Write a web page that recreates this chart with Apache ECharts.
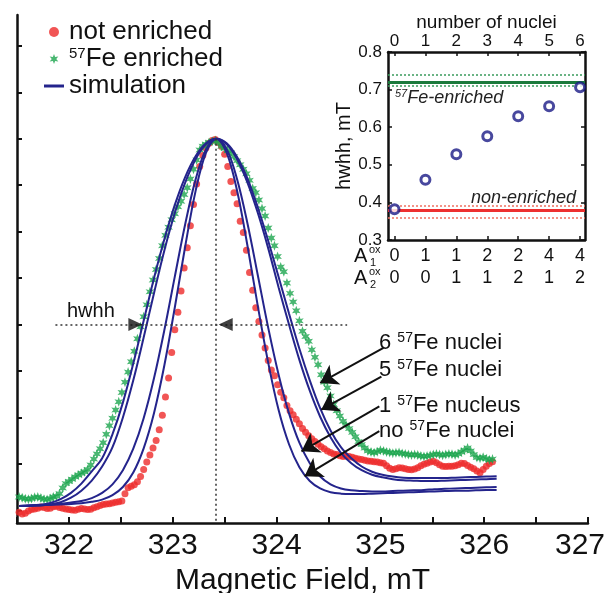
<!DOCTYPE html>
<html>
<head>
<meta charset="utf-8">
<script src="https://cdn.jsdelivr.net/npm/echarts@6/dist/echarts.min.js"></script>
<style>
html, body { margin: 0; padding: 0; background: #fff; }
#chart { width: 608px; height: 593px; }
</style>
</head>
<body>
<div id="chart"></div>
<script>
// field grid of the measured spectra (mT)
const fieldExp = [
  321.52, 321.55, 321.58, 321.61, 321.64, 321.67, 321.70, 321.73, 321.76, 321.79,
  321.82, 321.85, 321.88, 321.91, 321.94, 321.97, 322.00, 322.03, 322.06, 322.09,
  322.12, 322.15, 322.18, 322.21, 322.24, 322.27, 322.30, 322.33, 322.36, 322.39,
  322.42, 322.45, 322.48, 322.51, 322.54, 322.57, 322.60, 322.63, 322.66, 322.69,
  322.72, 322.75, 322.78, 322.81, 322.84, 322.87, 322.90, 322.93, 322.96, 322.99,
  323.02, 323.05, 323.08, 323.11, 323.14, 323.17, 323.20, 323.23, 323.26, 323.29,
  323.32, 323.35, 323.38, 323.41, 323.44, 323.47, 323.50, 323.53, 323.56, 323.59,
  323.62, 323.65, 323.68, 323.71, 323.74, 323.77, 323.80, 323.83, 323.86, 323.89,
  323.92, 323.95, 323.98, 324.01, 324.04, 324.07, 324.10, 324.13, 324.16, 324.19,
  324.22, 324.25, 324.28, 324.31, 324.34, 324.37, 324.40, 324.43, 324.46, 324.49,
  324.52, 324.55, 324.58, 324.61, 324.64, 324.67, 324.70, 324.73, 324.76, 324.79,
  324.82, 324.85, 324.88, 324.91, 324.94, 324.97, 325.00, 325.03, 325.06, 325.09,
  325.12, 325.15, 325.18, 325.21, 325.24, 325.27, 325.30, 325.33, 325.36, 325.39,
  325.42, 325.45, 325.48, 325.51, 325.54, 325.57, 325.60, 325.63, 325.66, 325.69,
  325.72, 325.75, 325.78, 325.81, 325.84, 325.87, 325.90, 325.93, 325.96, 325.99,
  326.02, 326.05, 326.08
];
const notEnriched = [
  -0.005, -0.010, -0.008, -0.002, 0.002, 0.004, 0.006, 0.009, 0.008, 0.005,
  0.006, 0.010, 0.011, 0.008, 0.006, 0.004, 0.002, 0.001, 0.000, 0.003,
  0.005, 0.004, 0.002, 0.003, 0.007, 0.010, 0.013, 0.016, 0.017, 0.018,
  0.020, 0.022, 0.023, 0.025, 0.045, 0.061, 0.065, 0.069, 0.077, 0.091,
  0.110, 0.130, 0.149, 0.168, 0.188, 0.217, 0.256, 0.305, 0.356, 0.425,
  0.486, 0.533, 0.590, 0.652, 0.707, 0.766, 0.823, 0.878, 0.925, 0.955,
  0.975, 0.988, 0.995, 0.998, 0.990, 0.979, 0.958, 0.925, 0.885, 0.855,
  0.825, 0.778, 0.748, 0.700, 0.640, 0.592, 0.545, 0.508, 0.472, 0.437,
  0.403, 0.378, 0.362, 0.338, 0.318, 0.303, 0.282, 0.268, 0.257, 0.245,
  0.233, 0.220, 0.210, 0.201, 0.193, 0.185, 0.178, 0.171, 0.166, 0.160,
  0.156, 0.152, 0.150, 0.147, 0.145, 0.146, 0.145, 0.143, 0.140, 0.138,
  0.137, 0.135, 0.133, 0.132, 0.131, 0.130, 0.128, 0.127, 0.120, 0.113,
  0.110, 0.112, 0.115, 0.114, 0.112, 0.110, 0.109, 0.111, 0.115, 0.120,
  0.124, 0.127, 0.130, 0.132, 0.128, 0.123, 0.119, 0.118, 0.119, 0.119,
  0.120, 0.123, 0.127, 0.126, 0.121, 0.116, 0.112, 0.106, 0.101, 0.110,
  0.119, 0.126, 0.131
];
const enriched = [
  0.036, 0.034, 0.031, 0.030, 0.032, 0.035, 0.036, 0.033, 0.030, 0.029,
  0.032, 0.036, 0.038, 0.045, 0.060, 0.072, 0.078, 0.084, 0.090, 0.095,
  0.100, 0.104, 0.110, 0.122, 0.138, 0.152, 0.166, 0.182, 0.205, 0.228,
  0.248, 0.270, 0.292, 0.317, 0.345, 0.372, 0.400, 0.428, 0.462, 0.494,
  0.521, 0.553, 0.588, 0.620, 0.648, 0.678, 0.712, 0.740, 0.762, 0.782,
  0.798, 0.817, 0.832, 0.850, 0.868, 0.892, 0.918, 0.943, 0.970, 0.980,
  0.985, 0.990, 0.993, 0.995, 0.990, 0.980, 0.974, 0.968, 0.962, 0.952,
  0.941, 0.930, 0.918, 0.906, 0.888, 0.866, 0.855, 0.835, 0.812, 0.792,
  0.760, 0.733, 0.712, 0.683, 0.655, 0.642, 0.612, 0.584, 0.561, 0.537,
  0.510, 0.482, 0.468, 0.455, 0.432, 0.412, 0.392, 0.365, 0.345, 0.330,
  0.308, 0.285, 0.268, 0.254, 0.240, 0.230, 0.220, 0.210, 0.198, 0.185,
  0.177, 0.168, 0.160, 0.157, 0.155, 0.158, 0.162, 0.160, 0.157, 0.156,
  0.154, 0.155, 0.156, 0.153, 0.152, 0.150, 0.149, 0.150, 0.149, 0.146,
  0.145, 0.146, 0.148, 0.150, 0.152, 0.150, 0.148, 0.150, 0.152, 0.151,
  0.149, 0.152, 0.157, 0.162, 0.168, 0.160, 0.150, 0.142, 0.140, 0.143,
  0.139, 0.136, 0.138
];

// field grid of the simulations (mT)
const fieldSim = [
  321.52, 321.62, 321.72, 321.82, 321.92, 322.02, 322.12, 322.22, 322.32, 322.42,
  322.52, 322.62, 322.72, 322.82, 322.92, 323.02, 323.12, 323.22, 323.32, 323.42,
  323.52, 323.62, 323.72, 323.82, 323.92, 324.02, 324.12, 324.22, 324.32, 324.42,
  324.52, 324.62, 324.72, 324.82, 324.92, 325.02, 325.12, 325.22, 325.32, 325.42,
  325.52, 325.62, 325.72, 325.82, 325.92, 326.02, 326.12
];
const simNone = [
  0.012, 0.013, 0.014, 0.015, 0.016, 0.017, 0.019, 0.023, 0.029, 0.041,
  0.063, 0.102, 0.167, 0.262, 0.391, 0.546, 0.710, 0.859, 0.962, 1.000,
  0.962, 0.860, 0.712, 0.549, 0.397, 0.270, 0.178, 0.116, 0.079, 0.059,
  0.049, 0.045, 0.044, 0.044, 0.045, 0.046, 0.047, 0.048, 0.049, 0.050,
  0.051, 0.052, 0.053, 0.053, 0.054, 0.055, 0.055
];
const simOne = [
  0.012, 0.013, 0.014, 0.015, 0.017, 0.021, 0.025, 0.033, 0.047, 0.070,
  0.108, 0.166, 0.248, 0.356, 0.486, 0.629, 0.770, 0.890, 0.971, 1.000,
  0.972, 0.891, 0.772, 0.632, 0.491, 0.365, 0.261, 0.182, 0.127, 0.091,
  0.070, 0.059, 0.054, 0.052, 0.051, 0.051, 0.052, 0.053, 0.054, 0.055,
  0.057, 0.058, 0.059, 0.060, 0.061, 0.062, 0.063
];
const simFive = [
  0.012, 0.012, 0.013, 0.016, 0.022, 0.034, 0.053, 0.080, 0.118, 0.170,
  0.250, 0.350, 0.465, 0.585, 0.700, 0.800, 0.882, 0.945, 0.985, 1.000,
  0.985, 0.945, 0.882, 0.800, 0.705, 0.600, 0.500, 0.405, 0.322, 0.252,
  0.197, 0.155, 0.127, 0.108, 0.096, 0.089, 0.084, 0.081, 0.080, 0.079,
  0.079, 0.080, 0.081, 0.082, 0.083, 0.084, 0.085
];
const simSix = [
  0.012, 0.013, 0.015, 0.020, 0.030, 0.047, 0.072, 0.105, 0.140, 0.205,
  0.290, 0.395, 0.510, 0.625, 0.730, 0.822, 0.897, 0.953, 0.988, 1.000,
  0.988, 0.951, 0.893, 0.815, 0.725, 0.628, 0.530, 0.435, 0.350, 0.275,
  0.215, 0.170, 0.140, 0.118, 0.104, 0.096, 0.091, 0.088, 0.087, 0.087,
  0.087, 0.087, 0.088, 0.089, 0.090, 0.091, 0.092
];

// main plot guides: centre field, half height, hwhh arrow positions
const peakField = 323.41;
const halfLevel = 0.5;
const halfLineFrom = 321.87;
const halfLineTo = 324.68;
const hwhhArrows = [[322.64, 0.5, -90], [323.51, 0.5, 90]];
const yTickValues = [0, 0.125, 0.25, 0.375, 0.5, 0.625, 0.75, 0.875, 1, 1.125, 1.25];

// annotation arrows [from field, from int, to field, to int]
const labelArrows = [
  [325.03, 0.437, 324.42, 0.343],
  [325.01, 0.360, 324.43, 0.271],
  [324.99, 0.280, 324.24, 0.159],
  [324.99, 0.213, 324.27, 0.092]
];

// inset
const nucleiCount = [0, 1, 2, 3, 4, 5, 6];
const hwhhSim = [0.382, 0.460, 0.528, 0.576, 0.629, 0.656, 0.706];
const a1Values = ['0', '1', '1', '2', '2', '4', '4'];
const a2Values = ['0', '0', '1', '1', '2', '1', '2'];
const enrichedBand = [0.708, 0.725, 0.741];
const nonEnrichedBand = [0.358, 0.376, 0.392];

const RED = '#ee2a2a';
const GREEN = '#1ca54e';
const BLUE = '#24248c';
const INK = '#111';
const FONT = '"Liberation Sans", Arial, sans-serif';
const starPath = 'path://M0,-10L2.25,-3.9L8.66,-5L4.5,0L8.66,5L2.25,3.9L0,10L-2.25,3.9L-8.66,5L-4.5,0L-8.66,-5L-2.25,-3.9Z';
const dashPath = 'path://M0,0H20V3H0Z';

const myChart = echarts.init(document.getElementById('chart'));

function simSeries(vals) {
    return {
        name: 'simulation',
        type: 'line',
        xAxisIndex: 0,
        yAxisIndex: 0,
        data: fieldSim.map((b, i) => [b, vals[i]]),
        symbol: 'none',
        smooth: 0.35,
        lineStyle: {color: BLUE, width: 2},
        itemStyle: {color: BLUE},
        z: 4
    };
}

const dotted = {color: '#333', width: 1.5, type: [2, 3]};
const insetLine = {onZero: false, lineStyle: {color: INK, width: 2.5}};
const supRich = {s: {fontSize: 14, verticalAlign: 'top', lineHeight: 23, fontFamily: FONT}};

const option = {
    animation: false,
    backgroundColor: '#fff',
    textStyle: {fontFamily: FONT},
    grid: [
        {left: 17, right: 20, top: 15, bottom: 70, containLabel: false, outerBoundsMode: 'none'},
        {left: 388, right: 23, top: 52, bottom: 353, containLabel: false, outerBoundsMode: 'none'}
    ],
    legend: {
        orient: 'vertical',
        left: 44,
        top: 19,
        padding: 0,
        itemWidth: 20,
        itemHeight: 10,
        itemGap: 1,
        data: [
            {name: 'not enriched', icon: 'circle'},
            {name: 'Fe57', icon: starPath},
            {name: 'simulation', icon: dashPath}
        ],
        formatter: n => n === 'Fe57' ? '{s|57}Fe enriched' : n,
        textStyle: {
            fontSize: 26, color: INK, lineHeight: 26, fontFamily: FONT,
            rich: {s: {fontSize: 15, verticalAlign: 'top', lineHeight: 26, fontFamily: FONT, color: INK}}
        }
    },
    xAxis: [
        {
            gridIndex: 0, type: 'value', min: 321.5, max: 327, interval: 0.5,
            axisLine: {onZero: false, lineStyle: {color: INK, width: 2.5}},
            axisTick: {inside: true, length: 6, lineStyle: {color: INK, width: 2}},
            axisLabel: {
                fontSize: 30, color: INK, margin: 8,
                formatter: v => {
                    if (Math.abs(v - Math.round(v)) > 1e-6) return '';
                    return v > 326.5 ? '{last|' + Math.round(v) + '}' : String(Math.round(v));
                },
                rich: {last: {fontSize: 30, color: INK, fontFamily: FONT, padding: [0, 16, 0, 0]}}
            },
            splitLine: {show: false},
            name: 'Magnetic Field, mT', nameLocation: 'middle', nameGap: 36,
            nameTextStyle: {fontSize: 30, color: INK}
        },
        {
            gridIndex: 1, type: 'value', position: 'top', min: -0.21, max: 6.16,
            axisLine: insetLine,
            axisTick: {inside: true, length: 4, customValues: nucleiCount, lineStyle: {color: INK, width: 1.5}},
            axisLabel: {fontSize: 17, color: INK, margin: 2, customValues: nucleiCount},
            splitLine: {show: false},
            name: 'number of nuclei', nameLocation: 'middle', nameGap: 20,
            nameTextStyle: {fontSize: 19, color: INK}
        },
        {
            gridIndex: 1, type: 'value', position: 'bottom', min: -0.21, max: 6.16,
            axisLine: insetLine,
            axisTick: {inside: true, length: 4, customValues: nucleiCount, lineStyle: {color: INK, width: 1.5}},
            axisLabel: {
                fontSize: 18, color: INK, margin: 7, customValues: nucleiCount,
                formatter: v => a1Values[Math.round(v)]
            },
            splitLine: {show: false}
        },
        {
            gridIndex: 1, type: 'value', position: 'bottom', offset: 22, min: -0.21, max: 6.16,
            axisLine: {show: false, onZero: false},
            axisTick: {show: false},
            axisLabel: {
                fontSize: 18, color: INK, margin: 7, customValues: nucleiCount,
                formatter: v => a2Values[Math.round(v)]
            },
            splitLine: {show: false}
        }
    ],
    yAxis: [
        {
            gridIndex: 0, type: 'value', min: -0.034, max: 1.333,
            axisLine: {show: true, onZero: false, lineStyle: {color: INK, width: 2.5}},
            axisTick: {show: true, inside: true, length: 5, customValues: yTickValues, lineStyle: {color: INK, width: 2}},
            axisLabel: {show: false},
            splitLine: {show: false}
        },
        {
            gridIndex: 1, type: 'value', min: 0.3, max: 0.8, interval: 0.1,
            axisLine: Object.assign({show: true}, insetLine),
            axisTick: {show: true, inside: true, length: 4, lineStyle: {color: INK, width: 1.5}},
            axisLabel: {fontSize: 17, color: INK, margin: 6, formatter: v => v.toFixed(1)},
            splitLine: {show: false},
            name: 'hwhh, mT', nameLocation: 'middle', nameGap: 33,
            nameTextStyle: {fontSize: 20, color: INK}
        },
        {
            gridIndex: 1, type: 'value', position: 'right', min: 0.3, max: 0.8, interval: 0.1,
            axisLine: Object.assign({show: true}, insetLine),
            axisTick: {show: true, inside: true, length: 4, lineStyle: {color: INK, width: 1.5}},
            axisLabel: {show: false},
            splitLine: {show: false}
        }
    ],
    series: [
        {
            name: 'not enriched',
            type: 'scatter',
            xAxisIndex: 0, yAxisIndex: 0,
            data: fieldExp.map((b, i) => [b, notEnriched[i]]),
            symbol: 'circle',
            symbolSize: 7,
            itemStyle: {color: RED},
            z: 3,
            markLine: {
                silent: true,
                symbol: 'none',
                label: {show: false},
                lineStyle: dotted,
                data: [
                    [{coord: [halfLineFrom, halfLevel]}, {coord: [halfLineTo, halfLevel]}],
                    [{coord: [peakField, 1.0]}, {coord: [peakField, -0.034]}]
                ]
            }
        },
        {
            name: 'Fe57',
            type: 'scatter',
            xAxisIndex: 0, yAxisIndex: 0,
            data: fieldExp.map((b, i) => [b, enriched[i]]),
            symbol: starPath,
            symbolKeepAspect: true,
            symbolSize: 10,
            itemStyle: {color: GREEN},
            z: 3,
            markLine: {
                silent: true,
                label: {show: false},
                symbol: ['none', 'arrow'],
                symbolSize: 17,
                lineStyle: {color: INK, width: 2, type: 'solid'},
                data: labelArrows.map(a => [{coord: [a[0], a[1]]}, {coord: [a[2], a[3]]}])
            }
        },
        simSeries(simNone),
        simSeries(simOne),
        simSeries(simFive),
        simSeries(simSix),
        {
            name: 'hwhh arrows',
            type: 'scatter',
            xAxisIndex: 0, yAxisIndex: 0,
            data: hwhhArrows.map(a => ({value: [a[0], a[1]], symbolRotate: a[2]})),
            symbol: 'triangle',
            symbolSize: [13, 14],
            itemStyle: {color: INK},
            z: 6
        },
        {
            name: 'inset',
            type: 'scatter',
            xAxisIndex: 1, yAxisIndex: 1,
            data: nucleiCount.map((n, i) => [n, hwhhSim[i]]),
            symbol: 'circle',
            symbolSize: 9,
            itemStyle: {color: '#fff', borderColor: '#1a1a86', borderWidth: 3},
            z: 5,
            markLine: {
                silent: true,
                symbol: 'none',
                label: {show: false},
                data: [
                    {yAxis: enrichedBand[0], lineStyle: {color: '#3a9a5c', width: 1.5, type: [2, 2]}},
                    {yAxis: enrichedBand[1], lineStyle: {color: '#1b7a3c', width: 3, type: 'solid'}},
                    {yAxis: enrichedBand[2], lineStyle: {color: '#3a9a5c', width: 1.5, type: [2, 2]}},
                    {yAxis: nonEnrichedBand[0], lineStyle: {color: '#f07060', width: 1.5, type: [2, 2]}},
                    {yAxis: nonEnrichedBand[1], lineStyle: {color: '#ee3030', width: 3, type: 'solid'}},
                    {yAxis: nonEnrichedBand[2], lineStyle: {color: '#f07060', width: 1.5, type: [2, 2]}}
                ]
            }
        }
    ],
    graphic: [
        {type: 'text', x: 67, y: 311, style: {text: 'hwhh', font: '20px ' + FONT, fill: INK, verticalAlign: 'middle'}},
        {type: 'text', x: 379, y: 343, style: {text: '6 {s|57}Fe nuclei', font: '22px ' + FONT, fill: INK, verticalAlign: 'middle', rich: supRich}},
        {type: 'text', x: 379, y: 370, style: {text: '5 {s|57}Fe nuclei', font: '22px ' + FONT, fill: INK, verticalAlign: 'middle', rich: supRich}},
        {type: 'text', x: 379, y: 406, style: {text: '1 {s|57}Fe nucleus', font: '22px ' + FONT, fill: INK, verticalAlign: 'middle', rich: supRich}},
        {type: 'text', x: 379, y: 431, style: {text: 'no {s|57}Fe nuclei', font: '22px ' + FONT, fill: INK, verticalAlign: 'middle', rich: supRich}},
        {type: 'text', x: 395, y: 98, style: {text: '{s|57}Fe-enriched', font: 'italic 18px ' + FONT, fill: '#222', verticalAlign: 'middle',
            rich: {s: {fontSize: 11, fontStyle: 'italic', verticalAlign: 'top', lineHeight: 20, fontFamily: FONT}}}},
        {type: 'text', x: 576, y: 198, style: {text: 'non-enriched', font: 'italic 18px ' + FONT, fill: '#222', align: 'right', verticalAlign: 'middle'}},
        {type: 'text', x: 354, y: 256, style: {text: 'A', font: '20px ' + FONT, fill: INK, verticalAlign: 'middle'}},
        {type: 'text', x: 369, y: 250, style: {text: 'ox', font: '11px ' + FONT, fill: INK, verticalAlign: 'middle'}},
        {type: 'text', x: 370, y: 263, style: {text: '1', font: '11px ' + FONT, fill: INK, verticalAlign: 'middle'}},
        {type: 'text', x: 354, y: 278, style: {text: 'A', font: '20px ' + FONT, fill: INK, verticalAlign: 'middle'}},
        {type: 'text', x: 369, y: 272, style: {text: 'ox', font: '11px ' + FONT, fill: INK, verticalAlign: 'middle'}},
        {type: 'text', x: 370, y: 285, style: {text: '2', font: '11px ' + FONT, fill: INK, verticalAlign: 'middle'}}
    ]
};

option && myChart.setOption(option);
</script>
</body>
</html>
